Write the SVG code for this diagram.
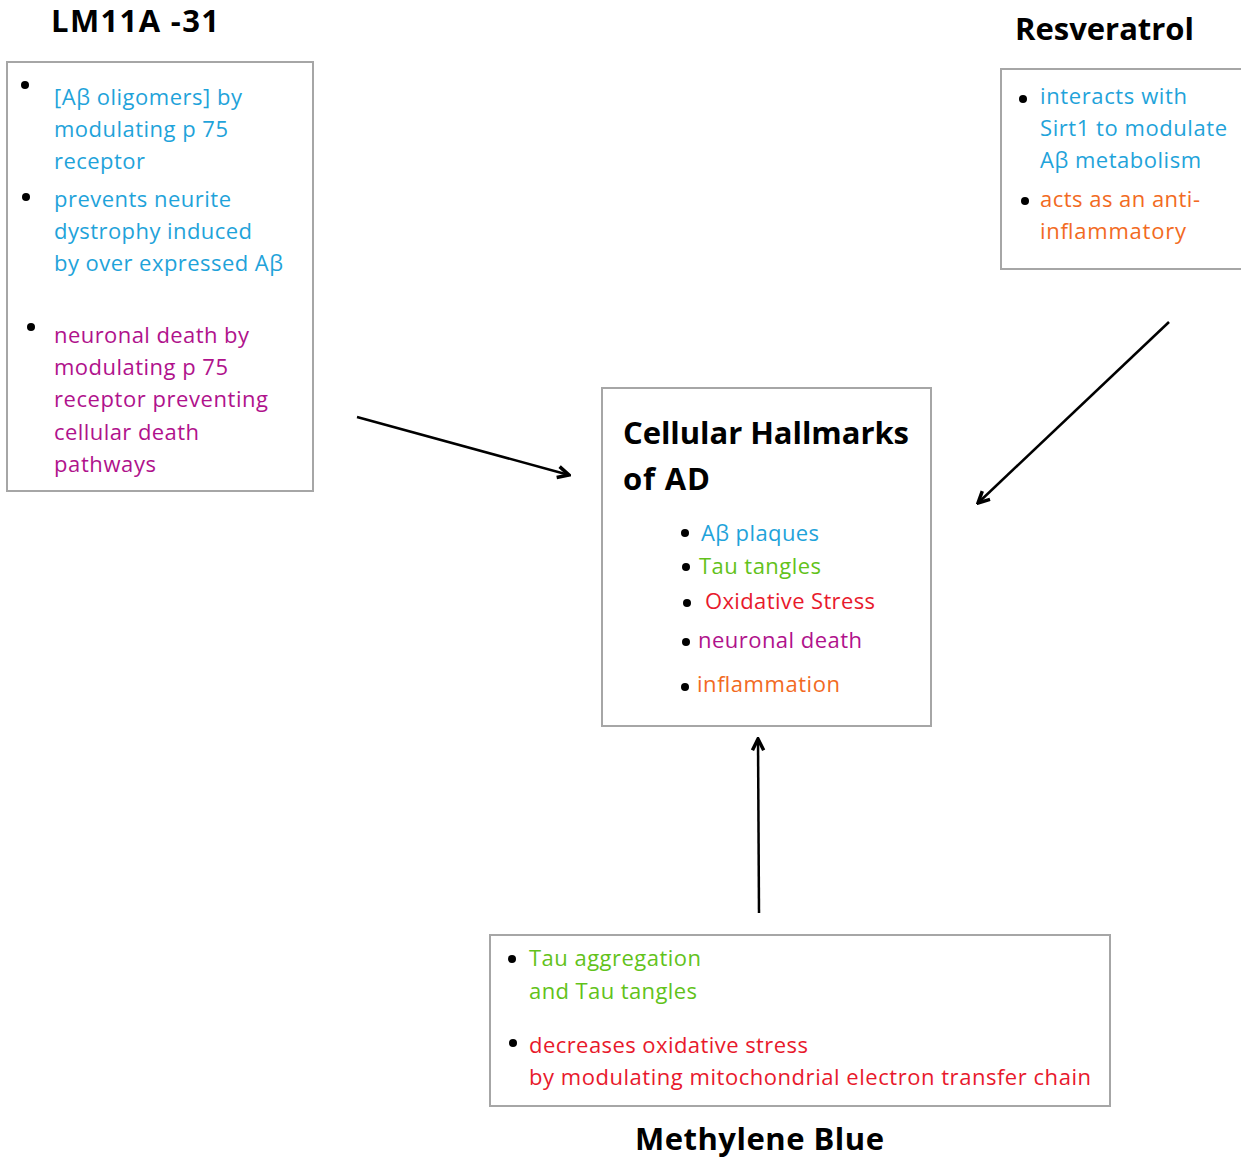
<svg xmlns="http://www.w3.org/2000/svg" width="1241" height="1157" viewBox="0 0 1241 1157">
<defs>
<style>
.box{fill:#fff;stroke:#a6a6a6;stroke-width:2}
.t{font-family:"Open Sans","Liberation Sans",sans-serif;font-size:22px}
.h{font-family:"Open Sans","Liberation Sans",sans-serif;font-size:31px;font-weight:bold;fill:#000}
.blue{fill:#1fa3da}
.green{fill:#62c21a}
.red{fill:#e8192c}
.mag{fill:#b0128c}
.orange{fill:#f26a22}
.dot{fill:#000}
.conn{stroke:#000;stroke-width:2.5;fill:none}
</style>
<marker id="arr" viewBox="0 0 12 12" refX="10.5" refY="6" markerWidth="6" markerHeight="6" orient="auto" markerUnits="strokeWidth">
<path d="M1.5,1.5 L10.5,6 L1.5,10.5" fill="none" stroke="#000" stroke-width="2.8" stroke-linejoin="miter"/>
</marker>
</defs>
<rect width="1241" height="1157" fill="#fff"/>

<g id="lm11a">
<text class="h" x="51" y="32" textLength="168">LM11A -31</text>
<rect class="box" x="7" y="62" width="306" height="429"/>
<circle class="dot" cx="25" cy="85" r="4"/>
<text class="t blue" x="54" y="105" textLength="188">[Aβ oligomers] by</text>
<text class="t blue" x="54" y="137" textLength="174">modulating p 75</text>
<text class="t blue" x="54" y="169" textLength="91">receptor</text>
<circle class="dot" cx="26" cy="197" r="4"/>
<text class="t blue" x="54" y="207" textLength="177">prevents neurite</text>
<text class="t blue" x="54" y="239" textLength="198">dystrophy induced</text>
<text class="t blue" x="54" y="271" textLength="229">by over expressed Aβ</text>
<circle class="dot" cx="31" cy="327" r="4"/>
<text class="t mag" x="54" y="343" textLength="195">neuronal death by</text>
<text class="t mag" x="54" y="375" textLength="174">modulating p 75</text>
<text class="t mag" x="54" y="407" textLength="214">receptor preventing</text>
<text class="t mag" x="54" y="440" textLength="145">cellular death</text>
<text class="t mag" x="54" y="472" textLength="102">pathways</text>
</g>

<g id="resveratrol">
<text class="h" x="1015" y="40" textLength="179">Resveratrol</text>
<rect class="box" x="1001" y="69" width="250" height="200"/>
<circle class="dot" cx="1023" cy="99" r="4"/>
<text class="t blue" x="1040" y="104" textLength="147">interacts with</text>
<text class="t blue" x="1040" y="136" textLength="187">Sirt1 to modulate</text>
<text class="t blue" x="1040" y="168" textLength="161">Aβ metabolism</text>
<circle class="dot" cx="1025" cy="201" r="4"/>
<text class="t orange" x="1040" y="207" textLength="160">acts as an anti-</text>
<text class="t orange" x="1040" y="239" textLength="146">inflammatory</text>
</g>

<g id="hallmarks">
<rect class="box" x="602" y="388" width="329" height="338"/>
<text class="h" x="623" y="444" font-size="33" textLength="286">Cellular Hallmarks</text>
<text class="h" x="623" y="490" font-size="33" textLength="87">of AD</text>
<circle class="dot" cx="685" cy="533" r="4"/>
<text class="t blue" x="701" y="541" textLength="118">Aβ plaques</text>
<circle class="dot" cx="686" cy="567" r="4"/>
<text class="t green" x="699" y="574" textLength="122">Tau tangles</text>
<circle class="dot" cx="687" cy="603" r="4"/>
<text class="t red" x="705" y="609" textLength="170">Oxidative Stress</text>
<circle class="dot" cx="686" cy="642" r="4"/>
<text class="t mag" x="698" y="648" textLength="164">neuronal death</text>
<circle class="dot" cx="685" cy="687" r="4"/>
<text class="t orange" x="697" y="692" textLength="143">inflammation</text>
</g>

<g id="methylene">
<rect class="box" x="490" y="935" width="620" height="171"/>
<circle class="dot" cx="512" cy="959" r="4"/>
<text class="t green" x="529" y="966" textLength="172">Tau aggregation</text>
<text class="t green" x="529" y="999" textLength="168">and Tau tangles</text>
<circle class="dot" cx="513" cy="1043" r="4"/>
<text class="t red" x="529" y="1053" textLength="279">decreases oxidative stress</text>
<text class="t red" x="529" y="1085" textLength="562">by modulating mitochondrial electron transfer chain</text>
<text class="h" x="635" y="1150" textLength="249">Methylene Blue</text>
</g>

<g id="connectors">
<line class="conn" x1="357" y1="417" x2="569" y2="475" marker-end="url(#arr)"/>
<line class="conn" x1="1169" y1="322" x2="978" y2="503" marker-end="url(#arr)"/>
<line class="conn" x1="759" y1="913" x2="758" y2="739" marker-end="url(#arr)"/>
</g>
</svg>
